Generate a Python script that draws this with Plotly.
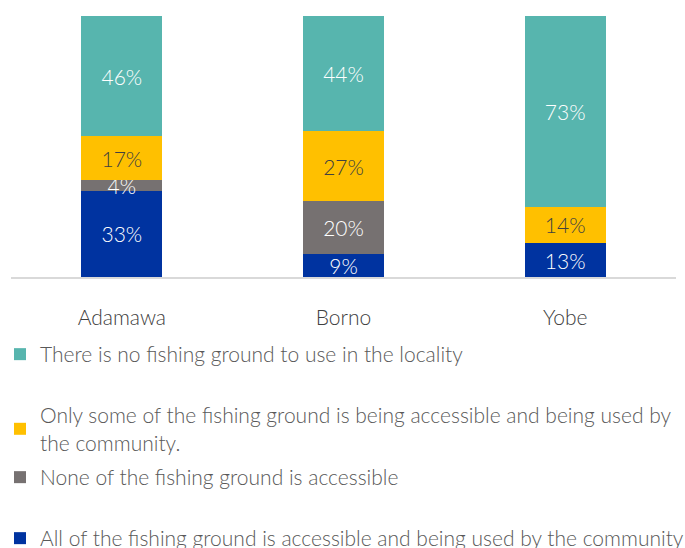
import plotly.graph_objects as go

states = ["Adamawa", "Borno", "Yobe"]
series_names = [
    "All of the fishing ground is accessible and being used by the community",
    "None of the fishing ground is accessible",
    "Only some of the fishing ground is being accessible and being used by<br>the community.",
    "There is no fishing ground to use in the locality",
]
all_access = [33, 9, 13]
none_access = [4, 20, 0]
some_access = [17, 27, 14]
no_ground = [46, 44, 73]

values = [all_access, none_access, some_access, no_ground]
colors = ["#0033A0", "#767171", "#FFC000", "#57B5AE"]
text_colors = ["#FFFFFF", "#FFFFFF", "#404040", "#FFFFFF"]
legend_ids = ["legend4", "legend3", "legend2", "legend"]
legend_tops = [518, 457, 395, 334]

FONT = "Lato"
W, H = 685, 548
ML, MR, MT, MB = 11, 9, 16, 271
PLOT_W = W - ML - MR
PLOT_H = H - MT - MB

fig = go.Figure()
for vals, name, col, tcol, lid in zip(values, series_names, colors, text_colors, legend_ids):
    fig.add_trace(go.Bar(
        x=states, y=vals, name=name,
        marker=dict(color=col, line=dict(width=0)),
        text=[f"{v}%" if v > 0 else "" for v in vals],
        textposition="inside",
        insidetextanchor="middle",
        constraintext="none",
        textfont=dict(family=FONT, size=21, color=tcol, weight=300),
        hoverinfo="skip",
        legend=lid,
    ))

leg_common = dict(
    xref="paper", yref="paper", x=-ML / PLOT_W, xanchor="left", yanchor="top",
    orientation="h",
    font=dict(family=FONT, size=21, color="#595959", weight=300),
    bgcolor="rgba(0,0,0,0)", borderwidth=0, itemwidth=30,
)
layout_legends = {}
for lid, top in zip(legend_ids, legend_tops):
    layout_legends[lid] = dict(leg_common, y=(H - MB - top) / PLOT_H)

fig.update_layout(
    width=W, height=H,
    margin=dict(l=ML, r=MR, t=MT, b=MB, autoexpand=False),
    barmode="stack",
    bargap=0.634,
    plot_bgcolor="white", paper_bgcolor="white",
    showlegend=True,
    xaxis=dict(
        showgrid=False, showline=True, linecolor="#D9D9D9", linewidth=2,
        ticks="", tickfont=dict(family=FONT, size=21, color="#404040", weight=300),
        ticklabelstandoff=21, automargin=False,
    ),
    yaxis=dict(range=[0, 100], visible=False),
    uniformtext=dict(mode=False),
    **layout_legends,
)

fig.write_html("out.html")
